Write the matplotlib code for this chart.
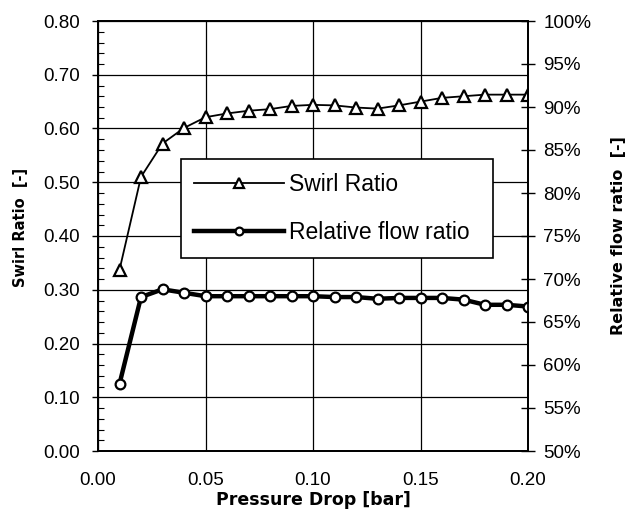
import matplotlib.pyplot as plt
import numpy as np
from matplotlib.ticker import MultipleLocator, PercentFormatter

# pressure drop steps [bar]
pressure_drop = [0.01, 0.02, 0.03, 0.04, 0.05, 0.06, 0.07, 0.08, 0.09, 0.10,
                 0.11, 0.12, 0.13, 0.14, 0.15, 0.16, 0.17, 0.18, 0.19, 0.20]
# swirl ratio [-] on the left axis
swirl_ratio = [0.337, 0.510, 0.572, 0.601, 0.621, 0.628, 0.633, 0.636, 0.642, 0.644,
               0.643, 0.639, 0.637, 0.643, 0.650, 0.657, 0.660, 0.663, 0.663, 0.663]
# relative flow ratio (fraction) on the right axis
flow_ratio = [0.578, 0.679, 0.688, 0.684, 0.680, 0.680, 0.680, 0.680, 0.680, 0.680,
              0.679, 0.679, 0.677, 0.678, 0.678, 0.678, 0.676, 0.670, 0.670, 0.668]

plt.rcParams['font.family'] = ['Liberation Sans', 'DejaVu Sans']

fig = plt.figure(figsize=(6.29, 5.13), dpi=100)
ax = fig.add_axes([98/629, 1 - 451/513, 430/629, 430/513])
ax2 = ax.twinx()

# left axis: swirl ratio
ax.set_xlim(0, 0.20)
ax.set_ylim(0, 0.80)
ax.xaxis.set_major_locator(MultipleLocator(0.05))
ax.yaxis.set_major_locator(MultipleLocator(0.10))
ax.yaxis.set_minor_locator(MultipleLocator(0.02))
ax.xaxis.set_major_formatter(lambda v, p: f"{v:.2f}")
ax.yaxis.set_major_formatter(lambda v, p: f"{v:.2f}")
ax.grid(True, which='major', color='black', linewidth=0.9)
ax.tick_params(axis='y', which='major', direction='out', length=4, width=1, pad=9, labelsize=13.5)
ax.tick_params(axis='y', which='minor', direction='in', length=4, width=0.8)
ax.tick_params(axis='x', which='major', length=0, pad=15, labelsize=13.5)
ax.tick_params(right=False, which='both')

line1, = ax.plot(pressure_drop, swirl_ratio, color='black', linewidth=1.3,
                 marker='^', markersize=9, markerfacecolor='white',
                 markeredgecolor='black', markeredgewidth=1.6, label='Swirl Ratio')

# right axis: relative flow ratio in percent
ax2.set_ylim(0.50, 1.00)
ax2.yaxis.set_major_locator(MultipleLocator(0.05))
ax2.yaxis.set_major_formatter(PercentFormatter(1.0, decimals=0))
ax2.tick_params(axis='y', direction='inout', length=10, width=1, pad=6, labelsize=13.5)

line2, = ax2.plot(pressure_drop, flow_ratio, color='black', linewidth=3.2,
                  marker='o', markersize=7, markerfacecolor='white',
                  markeredgecolor='black', markeredgewidth=1.6,
                  label='Relative flow ratio')

for a in (ax, ax2):
    for s in a.spines.values():
        s.set_linewidth(1.3)
        s.set_color('black')

bold = dict(family='DejaVu Sans', fontweight='bold')
ax.set_xlabel('Pressure Drop [bar]', fontsize=12.5, **bold)
ax.set_ylabel('Swirl Ratio  [-]', fontsize=10.5, **bold)
ax2.set_ylabel('Relative flow ratio  [-]', fontsize=11.5, **bold)
ax.xaxis.set_label_coords(0.5, -0.093)
ax.yaxis.set_label_coords(-0.163, 0.521)
ax2.yaxis.set_label_coords(1.193, 0.502)

leg = ax2.legend(handles=[line1, line2], loc='upper left',
                 bbox_to_anchor=(0.192, 0.453, 0.727, 0.225), mode='expand',
                 borderaxespad=0, fontsize=16.5, fancybox=False, framealpha=1,
                 edgecolor='black', handlelength=3.9, handletextpad=0.25,
                 labelspacing=1.1, borderpad=0.6, markerscale=0.8)
leg.get_frame().set_linewidth(1.2)

plt.savefig('out.png', dpi=100)
